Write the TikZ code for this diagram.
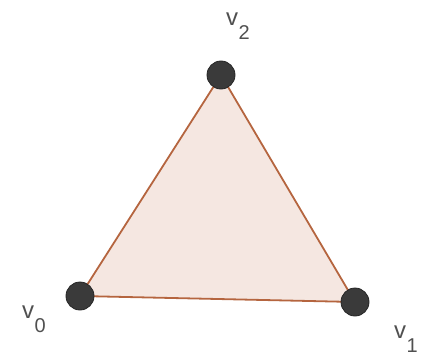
\documentclass[tikz,border=0pt]{standalone}
\usepackage{fontspec}
\setmainfont{Liberation Sans}
\usetikzlibrary{backgrounds}
\definecolor{trifill}{HTML}{F5E7E1}
\definecolor{triedge}{HTML}{B5653F}
\definecolor{dotfill}{HTML}{3A3A3A}
\definecolor{labelgray}{HTML}{505050}
\tikzset{
  vertexdot/.style={circle, fill=dotfill, draw=black!85, line width=0.8pt, minimum size=28pt, inner sep=0pt},
  edgeline/.style={draw=triedge, line width=1.8pt},
  vlabel/.style={anchor=base west, inner sep=0pt, text=labelgray, font=\fontsize{24}{28}\selectfont}
}
\newcommand{\vsub}[1]{v\hspace{0.5pt}\raisebox{-14pt}{\fontsize{20}{24}\selectfont #1}}
\begin{document}
\begin{tikzpicture}[x=1pt,y=-1pt]
\useasboundingbox (0,0) rectangle (421,356);
\node[vertexdot] (v0) at (80,296) {};
\node[vertexdot] (v1) at (355,302) {};
\node[vertexdot] (v2) at (221,75) {};
\begin{scope}[on background layer]
\fill[trifill] (v0.center) -- (v1.center) -- (v2.center) -- cycle;
\draw[edgeline] (v0.center) -- (v1.center);
\draw[edgeline] (v1.center) -- (v2.center);
\draw[edgeline] (v2.center) -- (v0.center);
\end{scope}
\node[vlabel] (l0) at (22,318) {\vsub{0}};
\node[vlabel] (l1) at (394,338) {\vsub{1}};
\node[vlabel] (l2) at (226,25) {\vsub{2}};
\end{tikzpicture}
\end{document}
